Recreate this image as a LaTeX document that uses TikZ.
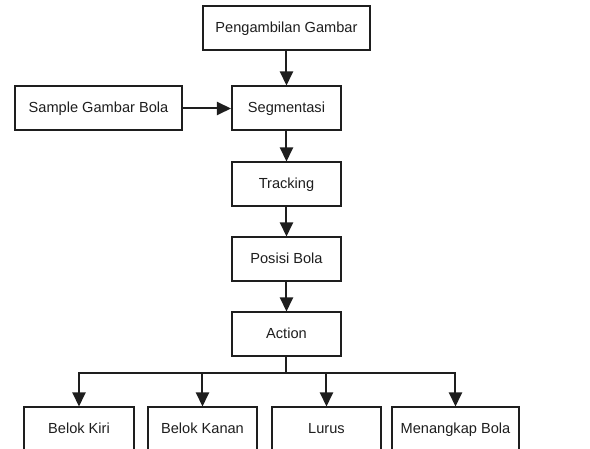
\documentclass[tikz,border=0pt]{standalone}
\usepackage{fontspec}
\setmainfont{Liberation Sans}
\usetikzlibrary{arrows.meta,positioning}
\definecolor{ink}{RGB}{30,30,30}
\tikzset{
  mainbox/.style={draw=ink, line width=2pt, minimum width=109pt,
    minimum height=44pt, align=center, fill=white, text=ink,
    text height=0.72em, text depth=0em,
    font=\fontsize{14.6pt}{17pt}\selectfont},
  widebox/.style={mainbox, minimum width=167pt},
  outbox/.style={mainbox, minimum width=109pt},
  flow/.style={-{Triangle[length=14pt,width=13pt]}, line width=2pt, draw=ink}
}

\begin{document}
\begin{tikzpicture}[node distance=30pt and 48pt]
\clip (-286.5pt,108.5pt) rectangle (303.5pt,-340.5pt);
\node[mainbox] (seg) {Segmentasi};
\node[widebox, above=34pt of seg] (ambil) {Pengambilan Gambar};
\node[widebox, left=48pt of seg] (sample) {Sample Gambar Bola};
\node[mainbox, below=30pt of seg] (track) {Tracking};
\node[mainbox, below=29pt of track] (posisi) {Posisi Bola};
\node[mainbox, below=29pt of posisi] (act) {Action};
\node[outbox, below=49pt of act, xshift=40pt] (lurus) {Lurus};
\node[outbox, left=13pt of lurus] (kanan) {Belok Kanan};
\node[outbox, left=12pt of kanan, minimum width=110pt] (kiri) {Belok Kiri};
\node[outbox, right=9pt of lurus, minimum width=127pt] (tangkap) {Menangkap Bola};

\draw[flow] (ambil)--(seg);
\draw[flow] (sample)--(seg);
\draw[flow] (seg)--(track);
\draw[flow] (track)--(posisi);
\draw[flow] (posisi)--(act);
\draw[line width=2pt, draw=ink] (act.south)--++(0,-16pt) coordinate (split);
\draw[flow] (split)-|(kiri.north);
\draw[flow] (split)-|(kanan.north);
\draw[flow] (split)-|(lurus.north);
\draw[flow] (split)-|(tangkap.north);
\end{tikzpicture}
\end{document}
